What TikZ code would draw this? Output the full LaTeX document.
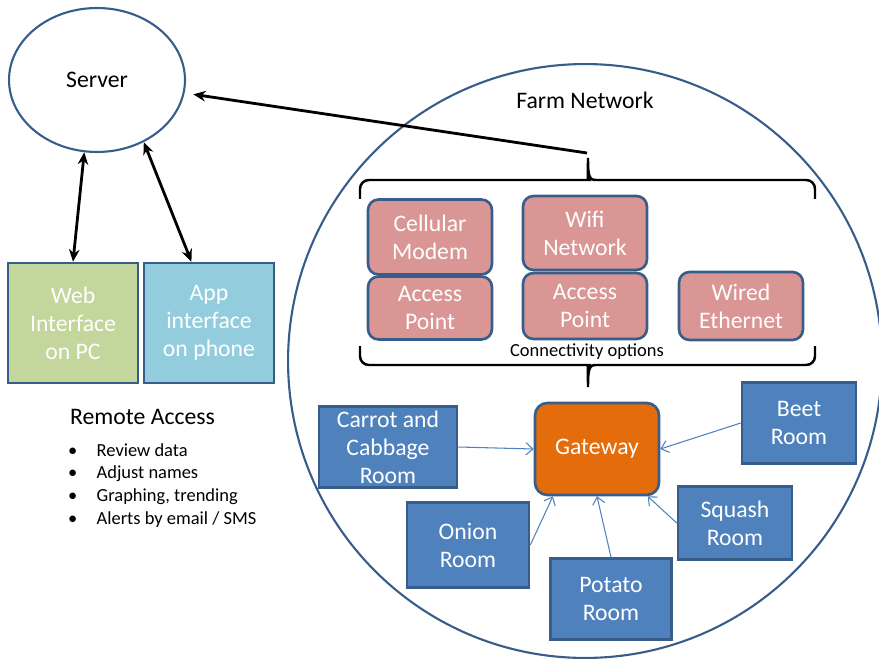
\documentclass[tikz,border=0pt]{standalone}
\usepackage{fontspec}
\setmainfont{Carlito}
\usepackage{tikz}
\usetikzlibrary{shapes.geometric, arrows.meta, positioning}
\definecolor{edgeblue}{RGB}{56,93,138}
\definecolor{roomblue}{RGB}{79,129,189}
\definecolor{optpink}{RGB}{217,150,148}
\definecolor{gateorange}{RGB}{228,108,10}
\definecolor{webgreen}{RGB}{195,214,155}
\definecolor{appblue}{RGB}{147,205,221}

\tikzset{
    big/.style={font=\fontsize{13.5}{16}\selectfont},
    small/.style={font=\fontsize{10.5}{13}\selectfont},
    box/.style={big, draw=edgeblue, line width=1.5pt, text=white, align=center, inner sep=0pt},
    room/.style={box, fill=roomblue},
    option/.style={box, fill=optpink, rounded corners=6pt, minimum width=2.48cm},
    link/.style={black, line width=1.6pt, {Stealth[length=7pt,width=6pt]}-{Stealth[length=7pt,width=6pt]}},
    feed/.style={roomblue, line width=0.6pt, -{Straight Barb[length=4pt,width=7pt]}},
    bracket/.style={black, line width=1.4pt}
}

\begin{document}
\begin{tikzpicture}[x=0.02cm, y=-0.02cm]
    \clip (0,0) rectangle (879,662);

    % Server and remote access
    \node[ellipse, draw=edgeblue, line width=1.2pt, minimum width=3.52cm, minimum height=2.88cm, big] (server) at (97,80) {Server};
    \node[box, fill=webgreen, minimum width=2.6cm, minimum height=2.4cm] (web) at (73,323) {Web\\Interface\\on PC};
    \node[box, fill=appblue, minimum width=2.6cm, minimum height=2.4cm] (app) at (209,323) {App\\interface\\on phone};
    \draw[link] (server.260) -- (web.north);
    \draw[link] (server.-53) -- (app.106);

    \node[big, anchor=west] (remote) at (64,417) {Remote Access};
    \node[small, anchor=north west, align=left] (tasks) at (62,437) {%
        \textbullet\hspace{11pt}Review data\\
        \textbullet\hspace{11pt}Adjust names\\
        \textbullet\hspace{11pt}Graphing, trending\\
        \textbullet\hspace{11pt}Alerts by email / SMS};

    % Farm network
    \node[circle, draw=edgeblue, line width=1.2pt, minimum size=11.88cm] (farm) at (585,361) {};
    \node[big] (farmlabel) at (585,100) {Farm Network};

    % Connectivity options
    \node[option, minimum height=1.5cm] (cell) at (430,237) {Cellular\\Modem};
    \node[option, minimum height=1.26cm] (ap1) at (430,308) {Access\\Point};
    \node[option, minimum height=1.48cm] (wifi) at (585,233) {Wifi\\Network};
    \node[option, minimum height=1.32cm] (ap2) at (585,306) {Access\\Point};
    \node[option, minimum height=1.36cm] (wired) at (741,306) {Wired\\Ethernet};
    \node[small] (conn) at (587,352) {Connectivity options};

    % braces
    \draw[bracket] (360,199) [rounded corners=5pt] -- (360,180) -- (580,180) [sharp corners]
        .. controls (587,180) and (588,176) .. (588,158)
        .. controls (588,176) and (589,180) .. (596,180) [rounded corners=5pt] -- (815,180) -- (815,199);
    \draw[bracket] (360,346) [rounded corners=5pt] -- (360,365) -- (580,365) [sharp corners]
        .. controls (587,365) and (588,369) .. (588,387)
        .. controls (588,369) and (589,365) .. (596,365) [rounded corners=5pt] -- (815,365) -- (815,346);
    \coordinate (uptip) at (587,153);
    \draw[black, line width=1.6pt, -{Stealth[length=7pt,width=6pt]}, shorten >=5pt] (uptip) -- (server);

    % Gateway and rooms
    \node[box, fill=gateorange, rounded corners=7pt, minimum width=2.48cm, minimum height=1.84cm] (gateway) at (597,449) {Gateway};
    \node[room, minimum width=2.76cm, minimum height=1.62cm] (carrot) at (388,447) {Carrot and\\Cabbage\\Room};
    \node[room, minimum width=2.44cm, minimum height=1.7cm] (onion) at (468,545) {Onion\\Room};
    \node[room, minimum width=2.42cm, minimum height=1.62cm] (potato) at (611,599) {Potato\\Room};
    \node[room, minimum width=2.28cm, minimum height=1.46cm] (squash) at (735,523) {Squash\\Room};
    \node[room, minimum width=2.28cm, minimum height=1.62cm] (beet) at (799,423) {Beet\\Room};

    \draw[feed] (carrot.east) -- (gateway.west);
    \draw[feed] (onion.east) -- (gateway.227);
    \draw[feed] (potato.north) -- (gateway.south);
    \draw[feed] (squash.west) -- (gateway.-43);
    \draw[feed] (beet.west) -- (gateway.east);
\end{tikzpicture}
\end{document}
